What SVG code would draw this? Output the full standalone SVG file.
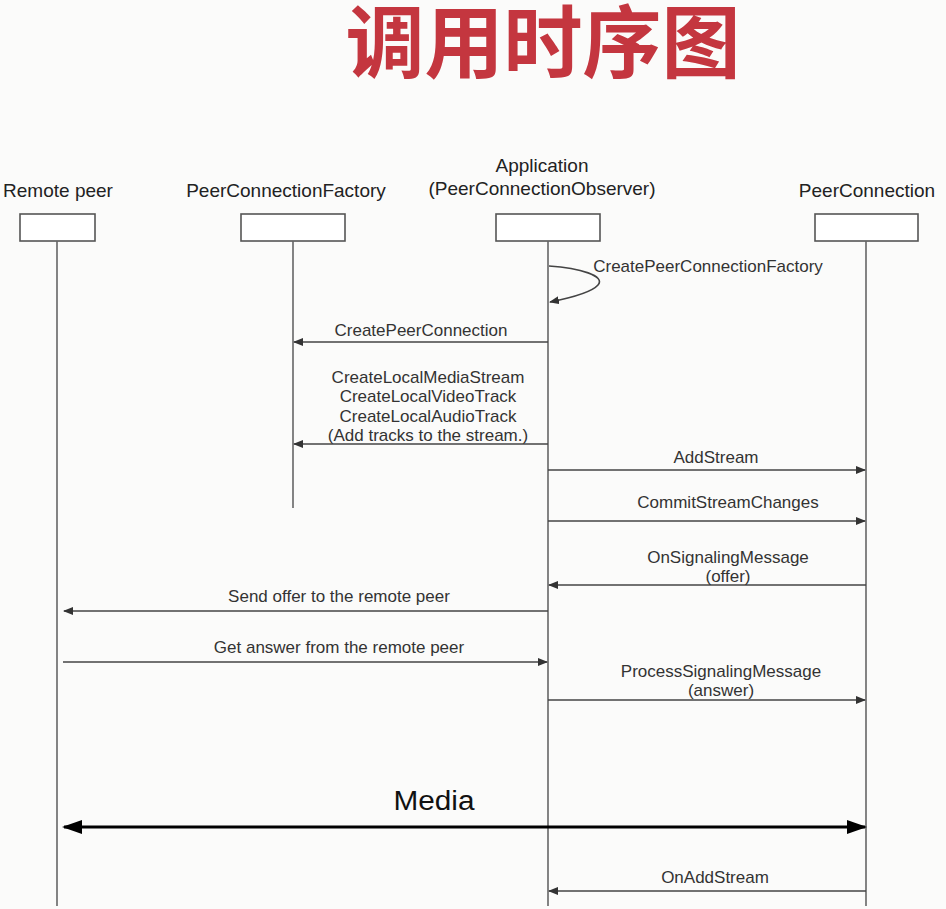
<svg xmlns="http://www.w3.org/2000/svg" width="946" height="909" viewBox="0 0 946 909">
<style>
.t{font-family:"Liberation Sans",Arial,sans-serif;font-size:17px;fill:#333;text-anchor:middle}
.h{font-family:"Liberation Sans",Arial,sans-serif;font-size:19px;fill:#222;text-anchor:middle}
.box{fill:#fff;stroke:#555;stroke-width:1.6}
.life{stroke:#666;stroke-width:1.6;fill:none}
.msg{stroke:#444;stroke-width:1.6;fill:none}
</style>
<defs>
<marker id="a" markerWidth="10" markerHeight="8" refX="9" refY="4" orient="auto" markerUnits="userSpaceOnUse"><path d="M0,0 L10,4 L0,8 Z" fill="#333"/></marker>
<marker id="big" markerWidth="20" markerHeight="14" refX="18" refY="7" orient="auto-start-reverse" markerUnits="userSpaceOnUse"><path d="M0,0 L20,7 L0,14 Z" fill="#000"/></marker>
</defs>
<rect width="946" height="909" fill="#fbfbfa"/>
<text x="543" y="72" font-family="'Noto Sans CJK SC',sans-serif" font-size="79" font-weight="bold" fill="#c4363f" text-anchor="middle">调用时序图</text>
<g id="remote"><text class="h" x="58" y="197">Remote peer</text><rect class="box" x="20" y="214" width="75" height="27"/><line class="life" x1="57" y1="241" x2="57" y2="906"/></g>
<g id="factory"><text class="h" x="286" y="197">PeerConnectionFactory</text><rect class="box" x="241" y="214" width="104" height="27"/><line class="life" x1="293" y1="241" x2="293" y2="508"/></g>
<g id="app"><text class="h" x="542" y="172">Application</text><text class="h" x="542" y="195">(PeerConnectionObserver)</text><rect class="box" x="496" y="214" width="104" height="27"/><line class="life" x1="548" y1="241" x2="548" y2="906"/></g>
<g id="pc"><text class="h" x="867" y="197">PeerConnection</text><rect class="box" x="815" y="214" width="103" height="27"/><line class="life" x1="866" y1="241" x2="866" y2="906"/></g>
<g id="connectors">
<path class="msg" d="M549,266 C580,268 606,276 598,285 C592,292 570,298 550,302" marker-end="url(#a)"/>
<text class="t" x="708" y="272">CreatePeerConnectionFactory</text>
<line class="msg" x1="548" y1="342" x2="294" y2="342" marker-end="url(#a)"/>
<text class="t" x="421" y="336">CreatePeerConnection</text>
<text class="t" x="428" y="383">CreateLocalMediaStream</text>
<text class="t" x="428" y="402">CreateLocalVideoTrack</text>
<text class="t" x="428" y="422">CreateLocalAudioTrack</text>
<text class="t" x="428" y="441">(Add tracks to the stream.)</text>
<line class="msg" x1="548" y1="444" x2="294" y2="444" marker-end="url(#a)"/>
<line class="msg" x1="548" y1="470" x2="865" y2="470" marker-end="url(#a)"/>
<text class="t" x="716" y="463">AddStream</text>
<line class="msg" x1="548" y1="521" x2="865" y2="521" marker-end="url(#a)"/>
<text class="t" x="728" y="508">CommitStreamChanges</text>
<line class="msg" x1="866" y1="585" x2="549" y2="585" marker-end="url(#a)"/>
<text class="t" x="728" y="563">OnSignalingMessage</text>
<text class="t" x="728" y="582">(offer)</text>
<line class="msg" x1="548" y1="611" x2="64" y2="611" marker-end="url(#a)"/>
<text class="t" x="339" y="602">Send offer to the remote peer</text>
<line class="msg" x1="63" y1="662" x2="547" y2="662" marker-end="url(#a)"/>
<text class="t" x="339" y="653">Get answer from the remote peer</text>
<line class="msg" x1="548" y1="700" x2="865" y2="700" marker-end="url(#a)"/>
<text class="t" x="721" y="677">ProcessSignalingMessage</text>
<text class="t" x="721" y="696">(answer)</text>
<line x1="64" y1="827" x2="865" y2="827" stroke="#000" stroke-width="3" marker-start="url(#big)" marker-end="url(#big)"/>
<text x="434" y="810" font-family="'Liberation Sans',Arial,sans-serif" font-size="27" fill="#111" text-anchor="middle" textLength="81" lengthAdjust="spacingAndGlyphs">Media</text>
<line class="msg" x1="866" y1="891" x2="549" y2="891" marker-end="url(#a)"/>
<text class="t" x="715" y="883">OnAddStream</text>
</g>
</svg>
